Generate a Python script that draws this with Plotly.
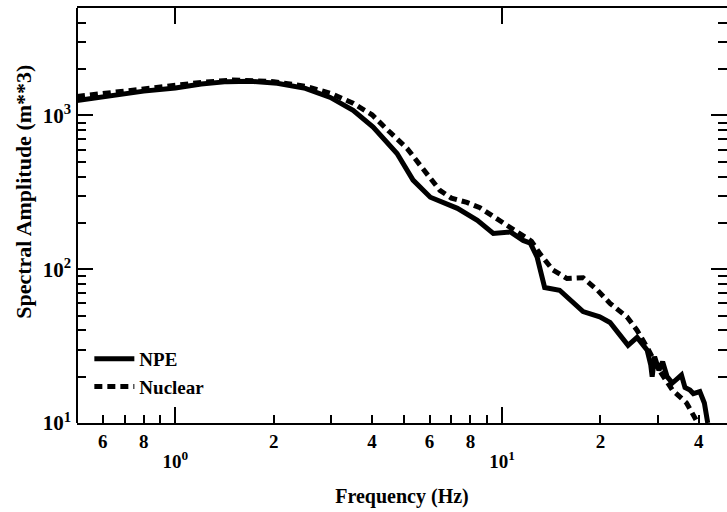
import math
import plotly.graph_objects as go

# ---- data ----
npe_freq = [0.5, 0.6, 0.7, 0.8, 1.0, 1.2, 1.44, 1.7, 2.05, 2.5, 2.98, 3.5, 4.03, 4.4, 4.77,
            5.34, 6.03, 7.3, 8.4, 9.4, 10.0, 10.6, 11.6, 12.2, 12.8, 13.5, 15.0, 16.3, 17.7,
            19.9, 21.4, 22.8, 24.3, 25.9, 27.8, 28.5, 28.8, 29.3, 30.2, 31.0, 32.0, 33.2,
            35.4, 36.3, 37.6, 38.5, 40.3, 41.6, 42.6]
npe_amp = [1250, 1320, 1390, 1440, 1510, 1600, 1660, 1670, 1620, 1500, 1310, 1080, 840, 680, 566,
           380, 294, 249, 208, 171, 172, 175, 154, 148, 120, 76, 73, 62, 53,
           49, 45, 38, 32, 36, 29.8, 24, 20, 27, 22, 25, 20, 18.2,
           20.5, 17, 16.4, 15.5, 16, 13.5, 10]

nuc_freq = [0.5, 0.6, 0.7, 0.8, 1.0, 1.2, 1.5, 2.0, 2.5, 3.0, 3.5, 4.0, 4.54, 5.12, 5.62,
            6.45, 7.0, 7.8, 8.56, 9.65, 10.5, 11.5, 12.3, 13.1, 14.3, 15.8, 17.7, 19.6,
            21.4, 24.1, 25.9, 27.8, 30.3, 33.2, 36.7, 39.3, 40.0]
nuc_amp = [1330, 1390, 1440, 1490, 1560, 1640, 1700, 1660, 1550, 1390, 1200, 1010, 777, 611, 473,
           326, 290, 272, 251, 214, 188, 168, 152, 125, 99, 87, 88, 73,
           60, 49, 40, 31, 22, 16.4, 13.5, 10.4, 10]

x_label_vals = [0.6, 0.8, 2, 4, 6, 8, 20, 40]
x_label_text = ["6", "8", "2", "4", "6", "8", "2", "4"]
x_minor_vals = [0.7, 0.9, 3, 5, 7, 9, 30]
x_decades = [1, 10]
x_decade_text = ["10<sup>0</sup>", "10<sup>1</sup>"]
y_decades = [10, 100, 1000]
y_decade_text = ["10<sup>1</sup>", "10<sup>2</sup>", "10<sup>3</sup>"]
y_minor_vals = [m * d for d in (10, 100, 1000) for m in range(2, 10) if m * d <= 5000]

x_title = "Frequency (Hz)"
y_title = "Spectral Amplitude (m**3)"

FONT = "Liberation Serif"
TICKF = dict(family=FONT, size=19, color="black", weight="bold")
YTICKF = dict(family=FONT, size=21, color="black", weight="bold")
TITLEF = dict(family=FONT, size=20, color="black", weight="bold")
YTITLEF = dict(family=FONT, size=22, color="black", weight="bold")
LEGF = dict(family=FONT, size=19, color="black", weight="bold")

fig = go.Figure()
fig.add_trace(go.Scatter(x=npe_freq, y=npe_amp, mode="lines", name="NPE",
                         line=dict(color="black", width=5)))
fig.add_trace(go.Scatter(x=nuc_freq, y=nuc_amp, mode="lines", name="Nuclear",
                         line=dict(color="black", width=5, dash="8px,5px")))
# invisible trace to anchor the decade axis
fig.add_trace(go.Scatter(x=[1, 10], y=[1000, 1000], xaxis="x2", mode="lines",
                         line=dict(width=0), showlegend=False, hoverinfo="skip"))

xr = [math.log10(0.5), math.log10(48.8)]
fig.update_layout(
    width=727, height=512,
    margin=dict(l=77, r=0, t=8, b=89, autoexpand=False),
    paper_bgcolor="white", plot_bgcolor="white",
    font=dict(family=FONT, size=19, color="black", weight="bold"),
    showlegend=True,
    legend=dict(x=0.019, y=0.20, xanchor="left", yanchor="top",
                bgcolor="rgba(0,0,0,0)", font=LEGF,
                tracegroupgap=0, itemwidth=40),
    xaxis=dict(type="log", range=xr, showgrid=False, zeroline=False, automargin=False,
               showline=True, mirror=True, linecolor="black", linewidth=2,
               ticks="inside", ticklen=8, tickwidth=1.5, tickcolor="black",
               tickmode="array", tickvals=x_label_vals, ticktext=x_label_text,
               tickfont=TICKF,
               minor=dict(tickmode="array", tickvals=x_minor_vals, ticks="inside",
                          ticklen=8, tickwidth=1.5, tickcolor="black", showgrid=False),
               title=dict(text=x_title, standoff=38, font=TITLEF)),
    xaxis2=dict(type="log", range=xr, overlaying="x", side="bottom", anchor="y",
                showgrid=False, zeroline=False, showline=False, mirror="ticks",
                automargin=False,
                ticks="inside", ticklen=16, tickwidth=1.5, tickcolor="black",
                tickmode="array", tickvals=x_decades, ticktext=x_decade_text,
                tickfont=TICKF, ticklabelstandoff=25),
    yaxis=dict(type="log", range=[1, math.log10(5000)], showgrid=False, zeroline=False,
               showline=False, mirror="ticks", automargin=False,
               ticks="inside", ticklen=16, tickwidth=1.5, tickcolor="black",
               tickmode="array", tickvals=y_decades, ticktext=y_decade_text,
               tickfont=YTICKF, ticklabelstandoff=5,
               minor=dict(tickmode="array", tickvals=y_minor_vals, ticks="inside",
                          ticklen=9, tickwidth=1.5, tickcolor="black", showgrid=False)),
    shapes=[dict(type="line", xref="paper", yref="paper", x0=0, x1=0, y0=0, y1=1,
                 line=dict(color="black", width=2))],
    annotations=[dict(text=y_title, textangle=-90, xref="paper", yref="paper",
                      x=0, y=0.557, xanchor="center", yanchor="middle",
                      xshift=-53, showarrow=False, font=YTITLEF)],
)

fig.write_html("out.html", config={"displayModeBar": False},
               post_script="document.body.style.margin='0';document.body.style.overflow='hidden';")
